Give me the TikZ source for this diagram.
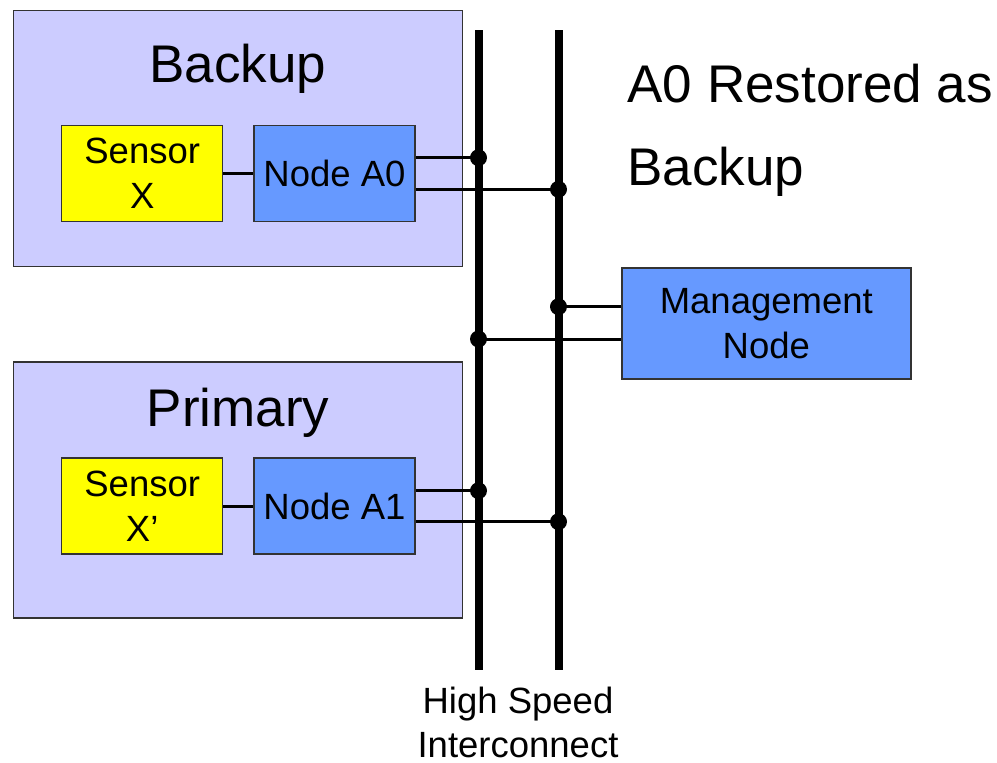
\documentclass[tikz,border=0pt]{standalone}
\usepackage{fontspec}
\setmainfont{Liberation Sans}

\definecolor{sitefill}{HTML}{CCCCFF}
\definecolor{unitfill}{HTML}{6699FF}
\definecolor{sensfill}{HTML}{FFFF00}
\definecolor{edgegray}{HTML}{333333}

\begin{document}
\begin{tikzpicture}[
    x=1pt, y=-1pt,
    box/.style={rectangle, draw=edgegray, line width=1.5pt, inner sep=0pt, align=center},
    site/.style={box, fill=sitefill, minimum width=449pt, minimum height=256pt},
    unit/.style={box, fill=unitfill, minimum width=161pt, minimum height=96pt, font=\fontsize{36.5}{45}\selectfont},
    sens/.style={unit, fill=sensfill},
    title/.style={anchor=base, font=\fontsize{53}{60}\selectfont},
    wire/.style={line width=3pt},
    bus/.style={line width=8pt},
    dot/.style={circle, fill=black, inner sep=0pt, minimum size=17pt},
]
  \useasboundingbox (0,0) rectangle (997,763);

  % the two interconnect rails
  \coordinate (b1top) at (478.5,30);  \coordinate (b1bot) at (478.5,670);
  \coordinate (b2top) at (558.5,30);  \coordinate (b2bot) at (558.5,670);
  \draw [bus] (b1top) -- (b1bot);
  \draw [bus] (b2top) -- (b2bot);

  % backup site
  \node [site]  (bsite) at (238,138.3)   {};
  \node [title] (btitle) at (238,82)     {Backup};
  \node [sens]  (sx)  at (142.2,173.7)   {Sensor\\X};
  \node [unit]  (a0)  at (334.5,173.7)   {Node A0};
  \draw [wire] (sx) -- (a0);

  % primary site
  \node [site]  (psite) at (238,490.2)   {};
  \node [title] (ptitle) at (238,426.7)  {Primary};
  \node [sens]  (sxp) at (142.2,506.2)   {Sensor\\X’};
  \node [unit]  (a1)  at (334.5,506.2)   {Node A1};
  \draw [wire] (sxp) -- (a1);

  % management
  \node [unit, minimum width=289pt, minimum height=111pt] (mgmt) at (766.3,323.3) {Management\\Node};

  % taps onto the rails
  \node [dot] (j0) at (478.5,157.7) {};
  \node [dot] (j1) at (558.5,189.3) {};
  \node [dot] (j2) at (558.5,306.7) {};
  \node [dot] (j3) at (478.5,339)   {};
  \node [dot] (j4) at (478.5,490.7) {};
  \node [dot] (j5) at (558.5,521.7) {};
  \draw [wire] (a0.east |- j0) -- (j0.center);
  \draw [wire] (a0.east |- j1) -- (j1.center);
  \draw [wire] (j2.center) -- (mgmt.west |- j2);
  \draw [wire] (j3.center) -- (mgmt.west |- j3);
  \draw [wire] (a1.east |- j4) -- (j4.center);
  \draw [wire] (a1.east |- j5) -- (j5.center);

  \node [anchor=base west, align=left, font=\fontsize{53}{83}\selectfont] (note) at (624,185)
        {A0 Restored as\\Backup};
  \node [anchor=base, align=center, font=\fontsize{36.5}{44}\selectfont] (hsi) at (518,757)
        {High Speed\\Interconnect};
\end{tikzpicture}
\end{document}
